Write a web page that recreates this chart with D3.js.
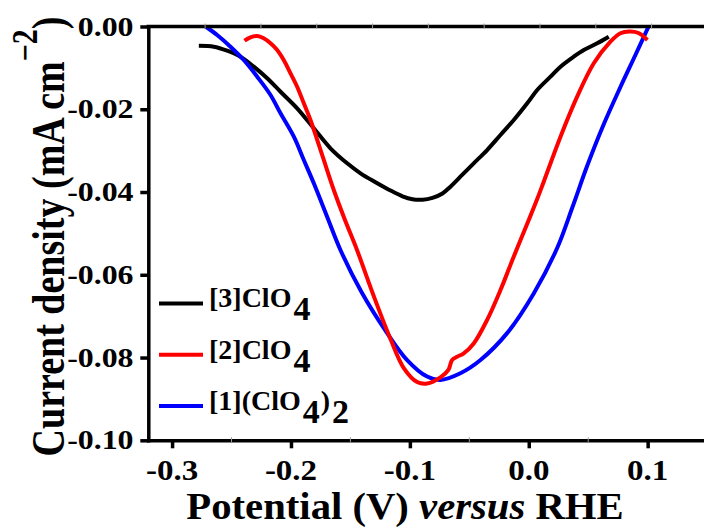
<!DOCTYPE html>
<html>
<head>
<meta charset="utf-8">
<script src="https://cdn.jsdelivr.net/npm/d3@7"></script>
<style>
  html, body { margin: 0; padding: 0; background: #fff; }
  svg { display: block; }
</style>
</head>
<body>
<svg id="chart" width="704" height="528"></svg>
<script>
// Linear sweep voltammograms: current density vs potential (V vs RHE)

// [3]ClO4 (black)
const potential3 = [-0.2775, -0.2649, -0.2537, -0.2425, -0.2313, -0.2200, -0.2088, -0.1948, -0.1808, -0.1668,
  -0.1527, -0.1415, -0.1289, -0.1163, -0.1062, -0.0978, -0.0894, -0.0810, -0.0726, -0.0659, -0.0575, -0.0463,
  -0.0350, -0.0238, -0.0126, -0.0013, 0.0071, 0.0183, 0.0267, 0.0378, 0.0463, 0.0575, 0.0673];
const current3 = [-0.00464, -0.00488, -0.00585, -0.00730, -0.00971, -0.01252, -0.01576, -0.01977, -0.02460, -0.02943,
  -0.03306, -0.03548, -0.03763, -0.03963, -0.04103, -0.04175, -0.04185, -0.04140, -0.04035, -0.03871, -0.03630, -0.03306,
  -0.02985, -0.02622, -0.02260, -0.01856, -0.01535, -0.01213, -0.00971, -0.00730, -0.00568, -0.00406, -0.00246];

// [2]ClO4 (red)
const potential2 = [-0.2391, -0.2341, -0.2284, -0.2229, -0.2172, -0.2116, -0.2061, -0.2004, -0.1948, -0.1892,
  -0.1836, -0.1779, -0.1724, -0.1640, -0.1549, -0.1443, -0.1304, -0.1163, -0.1051, -0.0939, -0.0855, -0.0743,
  -0.0676, -0.0645, -0.0602, -0.0547, -0.0463, -0.0350, -0.0238, -0.0126, 0.0000, 0.0071, 0.0126, 0.0267,
  0.0407, 0.0547, 0.0687, 0.0771, 0.0847, 0.0923, 0.0998];
const current2 = [-0.00343, -0.00261, -0.00229, -0.00285, -0.00406, -0.00568, -0.00810, -0.01131, -0.01455, -0.01856,
  -0.02260, -0.02743, -0.03226, -0.03951, -0.04652, -0.05413, -0.06513, -0.07552, -0.08253, -0.08590, -0.08627, -0.08480,
  -0.08300, -0.08060, -0.07980, -0.07900, -0.07660, -0.07090, -0.06370, -0.05560, -0.04676, -0.04170, -0.03751, -0.02663,
  -0.01696, -0.00889, -0.00367, -0.00164, -0.00121, -0.00157, -0.00326];

// [1](ClO4)2 (blue)
const potential1 = [-0.2719, -0.2621, -0.2509, -0.2397, -0.2284, -0.2172, -0.2088, -0.1976, -0.1892, -0.1808,
  -0.1696, -0.1584, -0.1407, -0.1191, -0.1023, -0.0855, -0.0743, -0.0575, -0.0406, -0.0182, 0.0042, 0.0239,
  0.0368, 0.0494, 0.0628, 0.0771, 0.0897, 0.1006];
const current1 = [0.0000, -0.00205, -0.00488, -0.00810, -0.01213, -0.01655, -0.02098, -0.02663, -0.03226, -0.03789,
  -0.04596, -0.05400, -0.06417, -0.07410, -0.08060, -0.08460, -0.08540, -0.08380, -0.08060, -0.07410, -0.06450, -0.05353,
  -0.04362, -0.03348, -0.02380, -0.01462, -0.00689, -0.00012];

const seriesColors = ["#000000", "#ff0000", "#0000ff"];
const legendLabels = [
  [["[3]ClO", false], ["4", true]],
  [["[2]ClO", false], ["4", true]],
  [["[1](ClO", false], ["4", true], [")", false], ["2", true]]
];

const xTicks = [-0.3, -0.2, -0.1, 0.0, 0.1];
const xTickLabels = ["-0.3", "-0.2", "-0.1", "0.0", "0.1"];
const xMinorTicks = [-0.25, -0.15, -0.05, 0.05];
const yTicks = [0.00, -0.02, -0.04, -0.06, -0.08, -0.10];
const yTickLabels = ["0.00", "-0.02", "-0.04", "-0.06", "-0.08", "-0.10"];

const FONT = "Liberation Serif";

const svg = d3.select("#chart");

const x = d3.scaleLinear().domain([-0.32, 0.15]).range([148.3, 707.1]);
const y = d3.scaleLinear().domain([-0.10, 0.00]).range([440.3, 26.5]);

// faint marks along the top frame line
const topMarks = d3.range(9);
const xTop = d3.scaleLinear().domain([0, 8]).range([x(-0.2722), x(0.1033)]);

const series = [
  { v: potential3, j: current3, color: seriesColors[0] },
  { v: potential2, j: current2, color: seriesColors[1] },
  { v: potential1, j: current1, color: seriesColors[2] }
];

const line = d3.line()
  .x(d => x(d[0]))
  .y(d => y(d[1]))
  .curve(d3.curveCatmullRom.alpha(0.5));

// curves
const drawOrder = [0, 2, 1];
drawOrder.forEach(k => {
  const s = series[k];
  svg.append("path")
    .datum(d3.zip(s.v, s.j))
    .attr("fill", "none")
    .attr("stroke", s.color)
    .attr("stroke-width", 4)
    .attr("stroke-linejoin", "round")
    .attr("d", line);
});

// bottom axis (lines only; labels drawn below)
const gx = svg.append("g")
  .attr("transform", `translate(0,${y(-0.10)})`)
  .call(d3.axisBottom(x).tickValues(xTicks).tickFormat("").tickSize(8).tickSizeOuter(0));
gx.select(".domain").attr("stroke", "#000").attr("stroke-width", 3.5).attr("stroke-linecap", "square");
gx.selectAll(".tick line").attr("stroke", "#000").attr("stroke-width", 3.5);
gx.selectAll(".tick text").remove();

// x tick labels, slightly widened around their centre
const fx = 1.1;
svg.append("g").selectAll("text").data(xTicks).join("text")
  .attr("transform", d => `translate(${x(d)},479.5) scale(${fx},1)`)
  .attr("text-anchor", "middle")
  .attr("font-family", FONT).attr("font-weight", "bold").attr("font-size", 30)
  .attr("fill", "#000")
  .text((d, i) => xTickLabels[i]);

// faint minor marks on the bottom line
svg.append("g").selectAll("line").data(xMinorTicks).join("line")
  .attr("x1", d => x(d)).attr("x2", d => x(d))
  .attr("y1", y(-0.10) - 3).attr("y2", y(-0.10) + 2)
  .attr("stroke", "#9a9a9a").attr("stroke-width", 1);

// left axis (lines only)
const gy = svg.append("g")
  .attr("transform", `translate(${x(-0.32)},0)`)
  .call(d3.axisLeft(y).tickValues(yTicks).tickFormat("").tickSize(8).tickSizeOuter(0));
gy.select(".domain").attr("stroke", "#000").attr("stroke-width", 3.5).attr("stroke-linecap", "square");
gy.selectAll(".tick line").attr("stroke", "#000").attr("stroke-width", 3.5);
gy.selectAll(".tick text").remove();

// y tick labels, right-aligned and widened
const fy = 1.18;
svg.append("g").selectAll("text").data(yTicks).join("text")
  .attr("transform", d => `translate(133.5,${y(d) + 9}) scale(${fy},1)`)
  .attr("text-anchor", "end")
  .attr("font-family", FONT).attr("font-weight", "bold").attr("font-size", 27)
  .attr("fill", "#000")
  .text((d, i) => yTickLabels[i]);

// top frame line
svg.append("line")
  .attr("x1", x(-0.32)).attr("x2", x(0.15))
  .attr("y1", y(0)).attr("y2", y(0))
  .attr("stroke", "#000").attr("stroke-width", 3.5).attr("stroke-linecap", "square");
svg.append("g").selectAll("line").data(topMarks).join("line")
  .attr("x1", d => xTop(d)).attr("x2", d => xTop(d))
  .attr("y1", y(0) - 3).attr("y2", y(0) + 2)
  .attr("stroke", "#9a9a9a").attr("stroke-width", 1);

// x-axis title
const xt = svg.append("text")
  .attr("transform", "translate(405,519) scale(1.1,1)")
  .attr("text-anchor", "middle")
  .attr("font-family", FONT).attr("font-weight", "bold").attr("font-size", 37)
  .attr("fill", "#000");
xt.append("tspan").text("Potential (V) ");
xt.append("tspan").attr("font-style", "italic").text("versus");
xt.append("tspan").text(" RHE");

// y-axis title
const yt = svg.append("text")
  .attr("transform", "translate(63.5,236.5) rotate(-90) scale(1,1.2)")
  .attr("text-anchor", "middle")
  .attr("font-family", FONT).attr("font-weight", "bold").attr("font-size", 38)
  .attr("fill", "#000");
yt.append("tspan").text("Current density (mA cm");
yt.append("tspan").attr("dy", -22).attr("font-size", 30).text("\u22122");
yt.append("tspan").attr("dy", 22).text(")");

// legend
const legend = svg.append("g");
legendLabels.forEach((parts, i) => {
  const ly = 303.5 + i * 51.3;
  legend.append("line")
    .attr("x1", 159).attr("x2", 203)
    .attr("y1", ly).attr("y2", ly)
    .attr("stroke", seriesColors[i]).attr("stroke-width", 4);
  const t = legend.append("text")
    .attr("x", 209).attr("y", ly + 3.7)
    .attr("font-family", FONT).attr("font-weight", "bold").attr("font-size", 28)
    .attr("fill", "#000");
  let shifted = false;
  parts.forEach(([txt, sub]) => {
    const ts = t.append("tspan").text(txt);
    if (sub && !shifted) { ts.attr("dy", 13).attr("dx", 2).attr("font-size", 34); shifted = true; }
    else if (!sub && shifted) { ts.attr("dy", -13).attr("dx", 1); shifted = false; }
    else if (sub) { ts.attr("font-size", 34); }
  });
});
</script>
</body>
</html>
